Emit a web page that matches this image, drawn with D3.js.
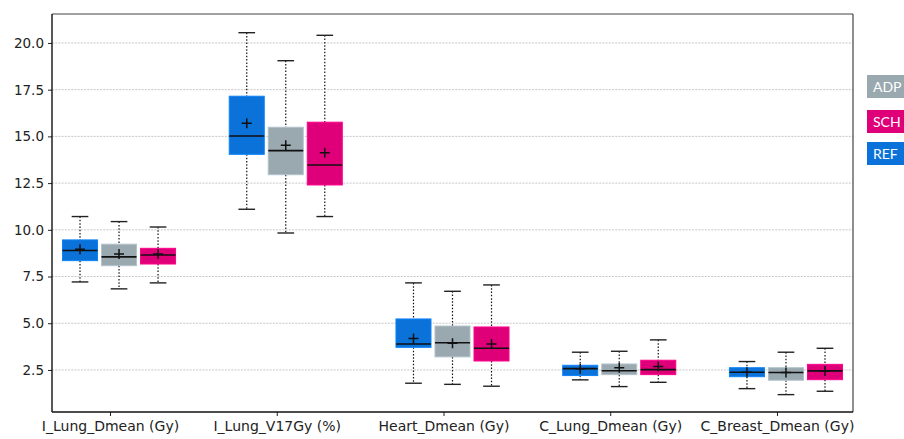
<!DOCTYPE html>
<html>
<head>
<meta charset="utf-8">
<script src="https://cdn.jsdelivr.net/npm/d3@7"></script>
<style>
  body { margin: 0; background: #fff; }
  svg { display: block; font-family: "DejaVu Sans", sans-serif; }
</style>
</head>
<body>
<svg id="chart" width="904" height="439"></svg>
<script>
const categories = ["I_Lung_Dmean (Gy)", "I_Lung_V17Gy (%)", "Heart_Dmean (Gy)", "C_Lung_Dmean (Gy)", "C_Breast_Dmean (Gy)"];
const seriesNames = ["REF", "ADP", "SCH"];
const legendOrder = ["ADP", "SCH", "REF"];
const yTicks = [2.5, 5.0, 7.5, 10.0, 12.5, 15.0, 17.5, 20.0];

// each per category: [whiskerLow, q1, median, q3, whiskerHigh, mean]
const REF = [
  [7.21, 8.35, 8.89, 9.46, 10.71, 8.96],
  [11.10, 14.04, 15.02, 17.15, 20.55, 15.70],
  [1.79, 3.71, 3.89, 5.23, 7.16, 4.18],
  [1.97, 2.20, 2.57, 2.75, 3.45, 2.57],
  [1.50, 2.14, 2.38, 2.62, 2.95, 2.38]
];
const ADP = [
  [6.84, 8.08, 8.55, 9.23, 10.44, 8.71],
  [9.83, 12.95, 14.24, 15.49, 19.05, 14.52],
  [1.73, 3.20, 3.96, 4.85, 6.71, 3.93],
  [1.61, 2.25, 2.46, 2.82, 3.50, 2.62],
  [1.18, 1.95, 2.36, 2.62, 3.45, 2.36]
];
const SCH = [
  [7.16, 8.17, 8.65, 9.01, 10.15, 8.71],
  [10.71, 12.40, 13.47, 15.76, 20.41, 14.13],
  [1.63, 2.98, 3.66, 4.80, 7.05, 3.89],
  [1.84, 2.25, 2.52, 3.02, 4.11, 2.68],
  [1.36, 1.98, 2.45, 2.80, 3.66, 2.45]
];
const seriesData = { REF, ADP, SCH };
const colors = { REF: "#0b72d9", ADP: "#9aa8b0", SCH: "#df0079" };

const svg = d3.select("#chart");
const L = 52, R = 853, T = 14, B = 412;

const x = d3.scaleLinear().domain([-0.348, 4.456]).range([L, R]);
const y = d3.scaleLinear().domain([0.25, 21.55]).range([B, T]);

const offsets = { REF: -0.18, ADP: 0.054, SCH: 0.288 };
const boxW = 0.21;
const capW = 0.1;

// grid
svg.append("g").selectAll("line").data(yTicks).join("line")
  .attr("x1", L).attr("x2", R)
  .attr("y1", d => y(d)).attr("y2", d => y(d))
  .attr("stroke", "#b8b8b8").attr("stroke-width", 0.8)
  .attr("stroke-dasharray", "2,1.2");

// boxes
seriesNames.forEach(s => {
  const g = svg.append("g");
  seriesData[s].forEach((d, i) => {
    const [lo, q1, med, q3, hi, mean] = d;
    const cx = x(i + offsets[s]);
    const hw = (x(boxW) - x(0)) / 2;
    const cw = (x(capW) - x(0)) / 2;
    g.append("line").attr("x1", cx).attr("x2", cx).attr("y1", y(hi)).attr("y2", y(q3))
      .attr("stroke", "#111").attr("stroke-width", 1.2).attr("stroke-dasharray", "1.5,1.8");
    g.append("line").attr("x1", cx).attr("x2", cx).attr("y1", y(q1)).attr("y2", y(lo))
      .attr("stroke", "#111").attr("stroke-width", 1.2).attr("stroke-dasharray", "1.5,1.8");
    [lo, hi].forEach(v => {
      g.append("line").attr("x1", cx - cw).attr("x2", cx + cw).attr("y1", y(v)).attr("y2", y(v))
        .attr("stroke", "#222").attr("stroke-width", 1.4);
    });
    g.append("rect").attr("x", cx - hw).attr("width", 2 * hw)
      .attr("y", y(q3)).attr("height", y(q1) - y(q3))
      .attr("fill", colors[s]).attr("stroke", d3.color(colors[s]).brighter(0.4)).attr("stroke-width", 1);
    g.append("line").attr("x1", cx - hw).attr("x2", cx + hw).attr("y1", y(med)).attr("y2", y(med))
      .attr("stroke", "#111").attr("stroke-width", 1.6);
    const my = y(mean);
    g.append("path").attr("d", `M${cx - 5},${my}H${cx + 5}M${cx},${my - 5}V${my + 5}`)
      .attr("stroke", "#111").attr("stroke-width", 1.5).attr("fill", "none");
  });
});

// axes
const yAxis = d3.axisLeft(y).tickValues(yTicks).tickFormat(d3.format(".1f")).tickSize(4).tickPadding(4);
const yg = svg.append("g").attr("transform", `translate(${L},0)`).call(yAxis)
  .attr("font-family", "DejaVu Sans, sans-serif").attr("font-size", 13.5);
yg.select(".domain").remove();
yg.selectAll("text").attr("fill", "#222");
yg.selectAll("line").attr("stroke", "#222");

const xAxis = d3.axisBottom(x).tickValues(d3.range(categories.length)).tickFormat(i => categories[i]).tickSize(4).tickPadding(5);
const xg = svg.append("g").attr("transform", `translate(0,${B})`).call(xAxis)
  .attr("font-family", "DejaVu Sans, sans-serif").attr("font-size", 14);
xg.select(".domain").remove();
xg.selectAll("text").attr("fill", "#222");
xg.selectAll("line").attr("stroke", "#222");

// frame
svg.append("line").attr("x1", L).attr("x2", R).attr("y1", T).attr("y2", T).attr("stroke", "#444").attr("stroke-width", 1.2);
svg.append("line").attr("x1", R).attr("x2", R).attr("y1", T).attr("y2", B).attr("stroke", "#444").attr("stroke-width", 1.2);
svg.append("line").attr("x1", L).attr("x2", L).attr("y1", T).attr("y2", B).attr("stroke", "#111").attr("stroke-width", 1.4);
svg.append("line").attr("x1", L).attr("x2", R).attr("y1", B).attr("y2", B).attr("stroke", "#111").attr("stroke-width", 1.4);

// legend
const lg = svg.append("g");
const legendY = [75, 110, 142];
legendOrder.forEach((s, i) => {
  lg.append("rect").attr("x", 867).attr("y", legendY[i]).attr("width", 45).attr("height", 23)
    .attr("fill", colors[s]);
  lg.append("text").attr("x", 873).attr("y", legendY[i] + 17).text(s)
    .attr("fill", "#fff").attr("font-size", 14).attr("font-family", "Lato, 'DejaVu Sans', sans-serif");
});
</script>
</body>
</html>
